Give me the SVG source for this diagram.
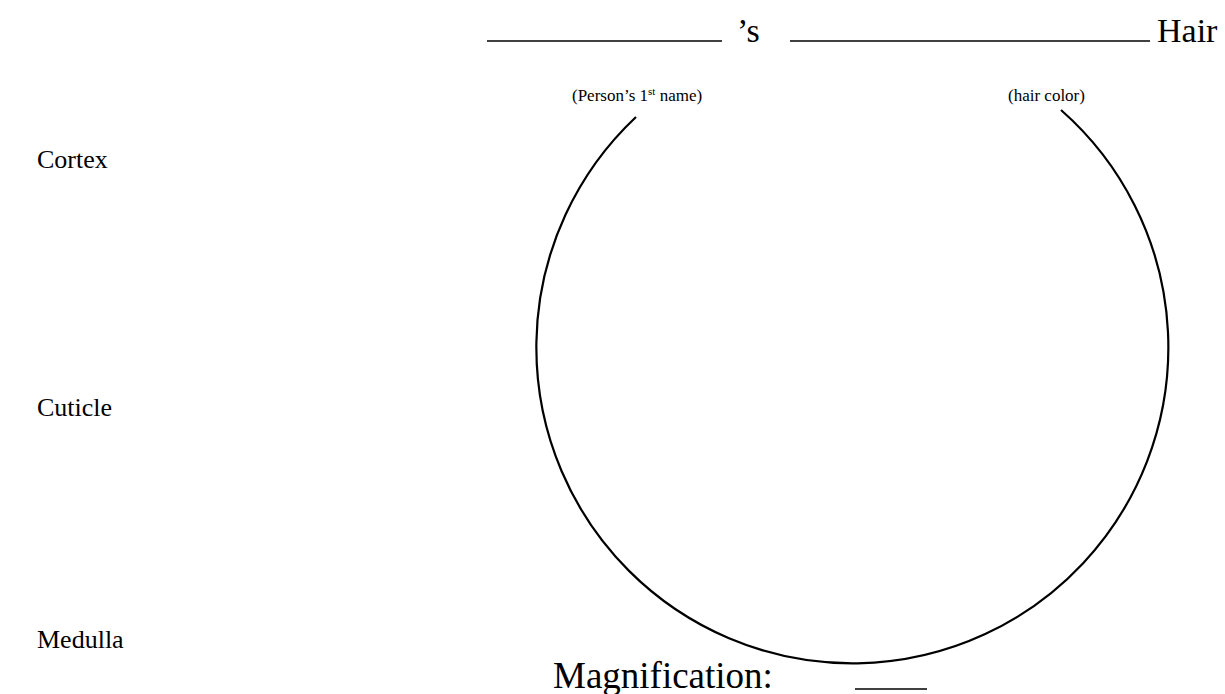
<svg xmlns="http://www.w3.org/2000/svg" width="1225" height="694" viewBox="0 0 1225 694">
<style>
.t{font-family:"Liberation Serif","Times New Roman",serif;fill:#000}
.big{font-size:34px}
.lbl{font-size:26px}
.sm{font-size:17px}
.mag{font-size:37px}
.ul{stroke:#000;stroke-width:1.3;fill:none}
.arc{stroke:#000;stroke-width:2.2;fill:none}
</style>
<rect width="1225" height="694" fill="#fff"/>
<g id="title">
<line class="ul" x1="487" y1="41" x2="722" y2="41"/>
<text class="t big" x="737" y="42">’s</text>
<line class="ul" x1="790" y1="41" x2="1150" y2="41"/>
<text class="t big" x="1157" y="42">Hair</text>
</g>
<g id="name-hint"><text class="t sm" x="572" y="101">(Person’s 1<tspan font-size="11" dy="-6">st</tspan><tspan dy="6"> name)</tspan></text></g>
<g id="color-hint"><text class="t sm" x="1008" y="101">(hair color)</text></g>
<g id="cortex"><text class="t lbl" x="37" y="168">Cortex</text></g>
<g id="cuticle"><text class="t lbl" x="37" y="416">Cuticle</text></g>
<g id="medulla"><text class="t lbl" x="37" y="648">Medulla</text></g>
<g id="connectors">
<path class="arc" d="M 636 117 A 316 316 0 1 0 1061 110"/>
</g>
<g id="magnification">
<text class="t mag" x="553" y="688">Magnification:</text>
<line class="ul" x1="855" y1="689" x2="927" y2="689"/>
</g>
</svg>
